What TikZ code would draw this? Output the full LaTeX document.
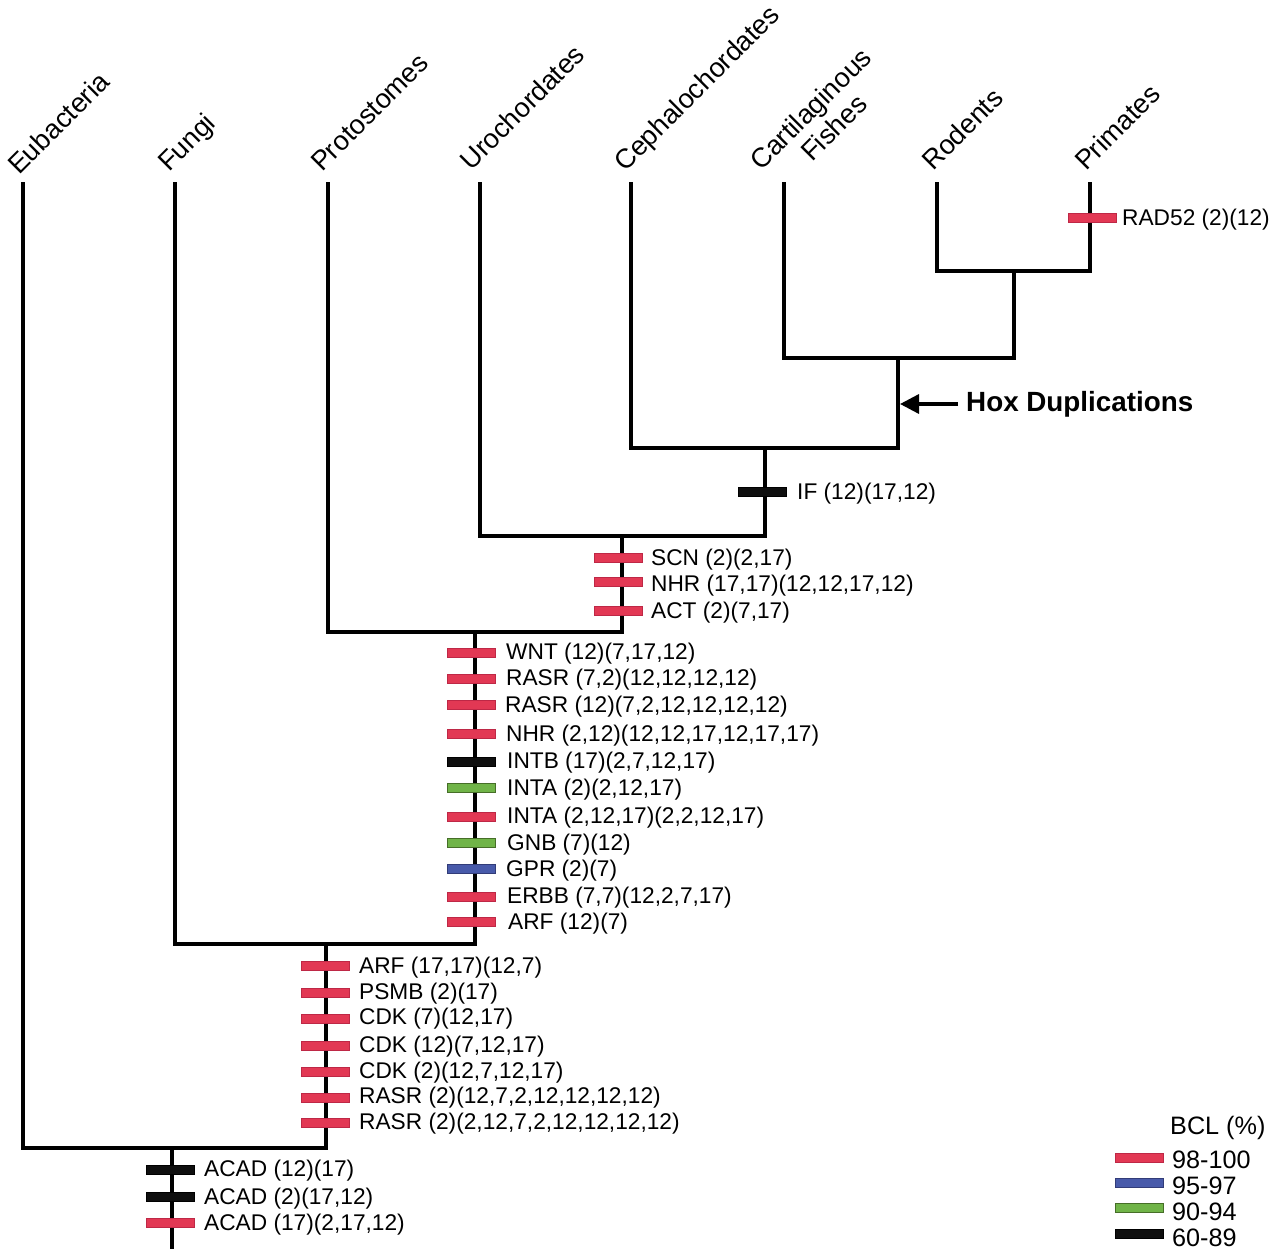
\documentclass[tikz,border=0pt]{standalone}
\usepackage{fontspec}
\setmainfont{Liberation Sans}
\usetikzlibrary{arrows.meta}
\definecolor{bclred}{RGB}{226,56,84}
\definecolor{bclredd}{RGB}{190,40,70}
\definecolor{bclblue}{RGB}{72,90,170}
\definecolor{bclblued}{RGB}{50,60,120}
\definecolor{bclgreen}{RGB}{112,180,72}
\definecolor{bclgreend}{RGB}{70,110,40}
\definecolor{bclblack}{RGB}{15,15,15}
\tikzset{
  branch/.style={line width=3.4pt, line join=miter, line cap=rect},
  taxon/.style={rotate=45, anchor=base west, inner sep=0pt, font=\fontsize{27.2}{30}\selectfont},
  genelab/.style={anchor=west, inner sep=0pt, font=\fontsize{22.7}{25}\selectfont},
  legendlab/.style={anchor=west, inner sep=0pt, font=\fontsize{25.2}{28}\selectfont},
  bar/.style={rectangle, minimum width=48pt, minimum height=9.5pt, inner sep=0pt, line width=0.6pt},
  redbar/.style={bar, fill=bclred, draw=bclredd},
  bluebar/.style={bar, fill=bclblue, draw=bclblued},
  greenbar/.style={bar, fill=bclgreen, draw=bclgreend},
  blackbar/.style={bar, fill=bclblack, draw=black},
}
\begin{document}
\begin{tikzpicture}[x=1pt,y=-1pt]
\useasboundingbox (0,0) rectangle (1280,1252);
\fill[white] (0,0) rectangle (1280,1252);

% leaf tops
\coordinate (lE) at (23,184);
\coordinate (lF) at (175,184);
\coordinate (lP) at (328,184);
\coordinate (lU) at (480,184);
\coordinate (lC) at (631,184);
\coordinate (lK) at (784,184);
\coordinate (lR) at (937,184);
\coordinate (lPr) at (1090,184);
% internal nodes
\coordinate (n1) at (1014,271);
\coordinate (n2) at (898,358);
\coordinate (n3) at (765,448);
\coordinate (n4) at (622,536);
\coordinate (n5) at (475,632);
\coordinate (n6) at (326,944);
\coordinate (n7) at (172,1148);
\coordinate (root) at (172,1247);

% taxa labels
\node[taxon] (tE) at (19,176) {Eubacteria};
\node[taxon] (tF) at (169,173) {Fungi};
\node[taxon] (tP) at (322,173) {Protostomes};
\node[taxon] (tU) at (471,172) {Urochordates};
\node[taxon] (tC) at (625,173) {Cephalochordates};
\node[taxon] (tK) at (761,172) {Cartilaginous};
\node[taxon] (tK2) at (812,163) {Fishes};
\node[taxon] (tR) at (933,172) {Rodents};
\node[taxon] (tPr) at (1086,172) {Primates};

% tree
\draw[branch] (lR) |- (n1) -| (lPr);
\draw[branch] (lK) |- (n2) -| (n1);
\draw[branch] (lC) |- (n3) -| (n2);
\draw[branch] (lU) |- (n4) -| (n3);
\draw[branch] (lP) |- (n5) -| (n4);
\draw[branch] (lF) |- (n6) -| (n5);
\draw[branch] (lE) |- (n7) -| (n6);
\draw[branch] (n7) -- (root);

% Hox arrow
\node[anchor=west, inner sep=0pt, font=\fontsize{27.8}{30}\selectfont\bfseries] (hox) at (966,404) {Hox Duplications};
\coordinate (hoxtip) at (900,404);
\draw[line width=3.4pt, -{Triangle[length=19pt,width=19pt]}] (hox.west) ++(-8,0) coordinate (hoxstart) -- (hoxtip);

% RAD52
\node[redbar] (bRAD) at (1092,218) {};
\node[genelab] (gRAD) at (1122,220) {RAD52 (2)(12)};

% IF
\node[blackbar] (bIF) at (762,492) {};
\node[genelab] (gIF) at (797,494) {IF (12)(17,12)};

% n4 branch
\node[redbar] (b1) at (618,558) {};
\node[genelab] (g1) at (651,560) {SCN (2)(2,17)};
\node[redbar] (b2) at (618,582) {};
\node[genelab] (g2) at (651,586) {NHR (17,17)(12,12,17,12)};
\node[redbar] (b3) at (618,611) {};
\node[genelab] (g3) at (651,613) {ACT (2)(7,17)};

% n5 branch
\node[redbar] (c1) at (471,653) {};
\node[genelab] (h1) at (506,654) {WNT (12)(7,17,12)};
\node[redbar] (c2) at (471,679) {};
\node[genelab] (h2) at (506,680) {RASR (7,2)(12,12,12,12)};
\node[redbar] (c3) at (471,705) {};
\node[genelab] (h3) at (505,707) {RASR (12)(7,2,12,12,12,12)};
\node[redbar] (c4) at (471,734) {};
\node[genelab] (h4) at (506,736) {NHR (2,12)(12,12,17,12,17,17)};
\node[blackbar] (c5) at (471,762) {};
\node[genelab] (h5) at (507,763) {INTB (17)(2,7,12,17)};
\node[greenbar] (c6) at (471,788) {};
\node[genelab] (h6) at (507,790) {INTA (2)(2,12,17)};
\node[redbar] (c7) at (471,817) {};
\node[genelab] (h7) at (507,818) {INTA (2,12,17)(2,2,12,17)};
\node[greenbar] (c8) at (471,843) {};
\node[genelab] (h8) at (507,845) {GNB (7)(12)};
\node[bluebar] (c9) at (471,869) {};
\node[genelab] (h9) at (506,871) {GPR (2)(7)};
\node[redbar] (c10) at (471,897) {};
\node[genelab] (h10) at (507,898) {ERBB (7,7)(12,2,7,17)};
\node[redbar] (c11) at (471,922) {};
\node[genelab] (h11) at (508,924) {ARF (12)(7)};

% n6 branch
\node[redbar] (d1) at (325,966) {};
\node[genelab] (k1) at (359,968) {ARF (17,17)(12,7)};
\node[redbar] (d2) at (325,993) {};
\node[genelab] (k2) at (359,994) {PSMB (2)(17)};
\node[redbar] (d3) at (325,1019) {};
\node[genelab] (k3) at (359,1019) {CDK (7)(12,17)};
\node[redbar] (d4) at (325,1046) {};
\node[genelab] (k4) at (359,1047) {CDK (12)(7,12,17)};
\node[redbar] (d5) at (325,1072) {};
\node[genelab] (k5) at (359,1073) {CDK (2)(12,7,12,17)};
\node[redbar] (d6) at (325,1098) {};
\node[genelab] (k6) at (359,1098) {RASR (2)(12,7,2,12,12,12,12)};
\node[redbar] (d7) at (325,1123) {};
\node[genelab] (k7) at (359,1124) {RASR (2)(2,12,7,2,12,12,12,12)};

% n7 branch
\node[blackbar] (e1) at (170,1170) {};
\node[genelab] (m1) at (204,1171) {ACAD (12)(17)};
\node[blackbar] (e2) at (170,1197) {};
\node[genelab] (m2) at (204,1199) {ACAD (2)(17,12)};
\node[redbar] (e3) at (170,1223) {};
\node[genelab] (m3) at (204,1225) {ACAD (17)(2,17,12)};

% legend
\node[legendlab] (lgt) at (1170,1128) {BCL (\%)};
\node[redbar] (lg1) at (1139,1158) {};
\node[legendlab] (lgl1) at (1172,1160) {98-100};
\node[bluebar] (lg2) at (1139,1183) {};
\node[legendlab] (lgl2) at (1172,1186) {95-97};
\node[greenbar] (lg3) at (1139,1208) {};
\node[legendlab] (lgl3) at (1172,1212) {90-94};
\node[blackbar] (lg4) at (1139,1234) {};
\node[legendlab] (lgl4) at (1172,1238) {60-89};
\end{tikzpicture}
\end{document}
